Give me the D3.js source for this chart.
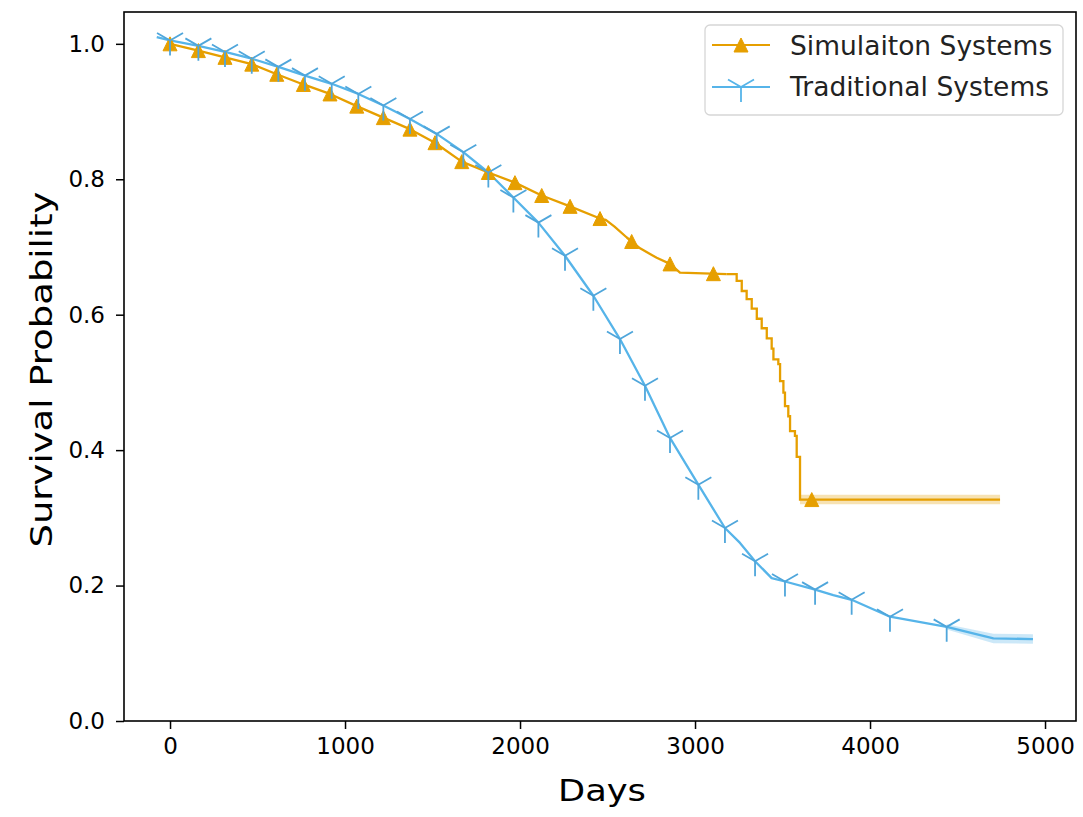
<!DOCTYPE html>
<html>
<head>
<meta charset="utf-8">
<script src="https://cdn.jsdelivr.net/npm/d3@7"></script>
<style>
  html, body { margin: 0; padding: 0; background: #fff; }
  svg { display: block; }
</style>
</head>
<body>
<svg id="chart" width="1083" height="817"></svg>
<script>
// ---------------- data ----------------
const seriesNames = ["Simulaiton Systems", "Traditional Systems"];

// Simulation systems: smooth early part (days, survival)
const simDays = [0, 162, 314, 467, 610, 762, 914, 1067, 1219, 1371, 1514, 1667, 1819, 1971,
                 2124, 2286, 2457, 2490, 2540, 2610, 2686, 2781, 2857, 2914, 3181];
const simProb = [1.000, 0.990, 0.980, 0.970, 0.955, 0.940, 0.926, 0.908, 0.891, 0.874, 0.854, 0.826, 0.810, 0.795,
                 0.776, 0.760, 0.742, 0.740, 0.730, 0.714, 0.698, 0.684, 0.675, 0.662, 0.660];
// Simulation systems: stepped late part
const simStepDays = [3181, 3238, 3267, 3295, 3324, 3353, 3381, 3410, 3438, 3448, 3476, 3486,
                     3505, 3514, 3533, 3543, 3571, 3581, 3600, 4743];
const simStepProb = [0.660, 0.650, 0.635, 0.623, 0.609, 0.594, 0.580, 0.565, 0.550, 0.534, 0.527, 0.502,
                     0.485, 0.465, 0.450, 0.428, 0.421, 0.390, 0.327, 0.327];
const simMarkerDays = [0, 162, 314, 467, 610, 762, 914, 1067, 1219, 1371, 1514, 1667, 1819, 1971,
                       2124, 2286, 2457, 2638, 2857, 3105, 3667];
const simBandDays = [3600, 4743];
const simBandLow  = [0.320, 0.320];
const simBandHigh = [0.334, 0.334];

// Traditional systems
const tradDays = [-76, 0, 162, 314, 467, 619, 771, 924, 1076, 1219, 1371, 1524, 1676, 1819, 1962,
                  2105, 2257, 2419, 2571, 2714, 2857, 3019, 3171, 3257, 3343, 3438, 3514, 3686,
                  3790, 3895, 4114, 4438, 4705, 4931];
const tradProb = [1.010, 1.005, 0.997, 0.988, 0.978, 0.966, 0.953, 0.941, 0.926, 0.909, 0.889, 0.867, 0.840, 0.810, 0.773,
                  0.736, 0.687, 0.628, 0.564, 0.495, 0.418, 0.349, 0.285, 0.263, 0.236, 0.211, 0.206, 0.194,
                  0.186, 0.179, 0.154, 0.139, 0.122, 0.121];
const tradMarkerDays = [0, 162, 314, 467, 619, 771, 924, 1076, 1219, 1371, 1524, 1676, 1819, 1962,
                        2105, 2257, 2419, 2571, 2714, 2857, 3019, 3171, 3343, 3514, 3686, 3895, 4114, 4438];
const tradBandDays = [4438, 4705, 4931];
const tradBandLow  = [0.135, 0.115, 0.114];
const tradBandHigh = [0.143, 0.129, 0.128];

const xTicks = [0, 1000, 2000, 3000, 4000, 5000];
const yTicks = [0.0, 0.2, 0.4, 0.6, 0.8, 1.0];
const xLabel = "Days";
const yLabel = "Survival Probability";

// ---------------- layout & styles ----------------
const colSim = "#E69F00";
const colTrad = "#56B4E9";
const L = 124, R = 1076, T = 12, B = 721;

const svg = d3.select("#chart");
const x = d3.scaleLinear().domain([-263, 5177]).range([L, R]);
const y = d3.scaleLinear().domain([0, 1.047]).range([B, T]);

function linAt(ds, ps, d) {
  if (d <= ds[0]) return ps[0];
  for (let i = 1; i < ds.length; i++) {
    if (d <= ds[i]) {
      const t = (d - ds[i - 1]) / (ds[i] - ds[i - 1]);
      return ps[i - 1] + t * (ps[i] - ps[i - 1]);
    }
  }
  return ps[ps.length - 1];
}
function stepAt(ds, ps, d) {
  let v = ps[0];
  for (let i = 0; i < ds.length; i++) if (d >= ds[i]) v = ps[i];
  return v;
}
function simAt(d) {
  return d <= simStepDays[0] ? linAt(simDays, simProb, d) : stepAt(simStepDays, simStepProb, d);
}

// confidence bands
const area = d3.area().x(d => x(d[0])).y0(d => y(d[1])).y1(d => y(d[2]));
svg.append("path")
  .attr("d", area(simBandDays.map((d, i) => [d, simBandLow[i], simBandHigh[i]])))
  .attr("fill", colSim).attr("fill-opacity", 0.3);
svg.append("path")
  .attr("d", area(tradBandDays.map((d, i) => [d, tradBandLow[i], tradBandHigh[i]])))
  .attr("fill", colTrad).attr("fill-opacity", 0.3);

// lines
const lineLin = d3.line().x(d => x(d[0])).y(d => y(d[1]));
const lineStep = d3.line().x(d => x(d[0])).y(d => y(d[1])).curve(d3.curveStepAfter);

svg.append("path")
  .attr("d", lineLin(tradDays.map((d, i) => [d, tradProb[i]])))
  .attr("fill", "none").attr("stroke", colTrad).attr("stroke-width", 2.3)
  .attr("stroke-linejoin", "round");

svg.append("path")
  .attr("d", lineLin(simDays.map((d, i) => [d, simProb[i]])))
  .attr("fill", "none").attr("stroke", colSim).attr("stroke-width", 2.3)
  .attr("stroke-linejoin", "round");
svg.append("path")
  .attr("d", lineStep(simStepDays.map((d, i) => [d, simStepProb[i]])))
  .attr("fill", "none").attr("stroke", colSim).attr("stroke-width", 2.3);

// markers
const triUp = "M0,-7L7,7L-7,7Z";
const triDown = "M0,0L0,15M0,0L-13,-7.5M0,0L13,-7.5";

svg.append("g").selectAll("path").data(simMarkerDays).join("path")
  .attr("transform", d => `translate(${x(d)},${y(simAt(d))})`)
  .attr("d", triUp).attr("fill", colSim).attr("stroke", colSim).attr("stroke-width", 1);

svg.append("g").selectAll("path").data(tradMarkerDays).join("path")
  .attr("transform", d => `translate(${x(d)},${y(linAt(tradDays, tradProb, d))})`)
  .attr("d", triDown).attr("fill", "none").attr("stroke", "#4fa6db").attr("stroke-width", 1.8);

// axes
const font = "DejaVu Sans, sans-serif";
const xAxis = svg.append("g").attr("transform", `translate(0,${B})`)
  .call(d3.axisBottom(x).tickValues(xTicks).tickFormat(d3.format("d")).tickSize(8).tickPadding(9));
const yAxis = svg.append("g").attr("transform", `translate(${L},0)`)
  .call(d3.axisLeft(y).tickValues(yTicks).tickFormat(d3.format(".1f")).tickSize(8).tickPadding(11));
[xAxis, yAxis].forEach(g => {
  g.select(".domain").remove();
  g.selectAll(".tick line").attr("stroke", "#000").attr("stroke-width", 1.5);
  g.selectAll(".tick text").attr("fill", "#000").style("font-family", font).style("font-size", "23px");
});

// frame
svg.append("rect").attr("x", L).attr("y", T).attr("width", R - L).attr("height", B - T)
  .attr("fill", "none").attr("stroke", "#000").attr("stroke-width", 1.6);

// axis labels
svg.append("text").attr("x", (L + R) / 2 + 2).attr("y", 801).attr("text-anchor", "middle")
  .style("font-family", font).style("font-size", "31px").attr("fill", "#000")
  .attr("textLength", 88).attr("lengthAdjust", "spacingAndGlyphs")
  .text(xLabel);
svg.append("text").attr("transform", `translate(52,${(T + B) / 2 + 3}) rotate(-90)`)
  .attr("text-anchor", "middle")
  .style("font-family", font).style("font-size", "31px").attr("fill", "#000")
  .attr("textLength", 356).attr("lengthAdjust", "spacingAndGlyphs")
  .text(yLabel);

// legend
const lg = svg.append("g");
lg.append("rect").attr("x", 705).attr("y", 25).attr("width", 358).attr("height", 90).attr("rx", 5)
  .attr("fill", "#fff").attr("fill-opacity", 0.8).attr("stroke", "#d6d6d6").attr("stroke-width", 1.3);
const legRows = [
  {name: seriesNames[0], color: colSim, marker: triUp, fill: colSim, ly: 45, ty: 55},
  {name: seriesNames[1], color: colTrad, marker: triDown, fill: "none", ly: 87, ty: 96}
];
legRows.forEach(r => {
  lg.append("line").attr("x1", 712).attr("x2", 770).attr("y1", r.ly).attr("y2", r.ly)
    .attr("stroke", r.color).attr("stroke-width", 2.2);
  lg.append("path").attr("transform", `translate(741,${r.ly})`).attr("d", r.marker)
    .attr("fill", r.fill).attr("stroke", r.color).attr("stroke-width", r.fill === "none" ? 1.8 : 1);
  lg.append("text").attr("x", 790).attr("y", r.ty)
    .style("font-family", font).style("font-size", "26.5px").attr("fill", "#222")
    .text(r.name);
});
</script>
</body>
</html>
